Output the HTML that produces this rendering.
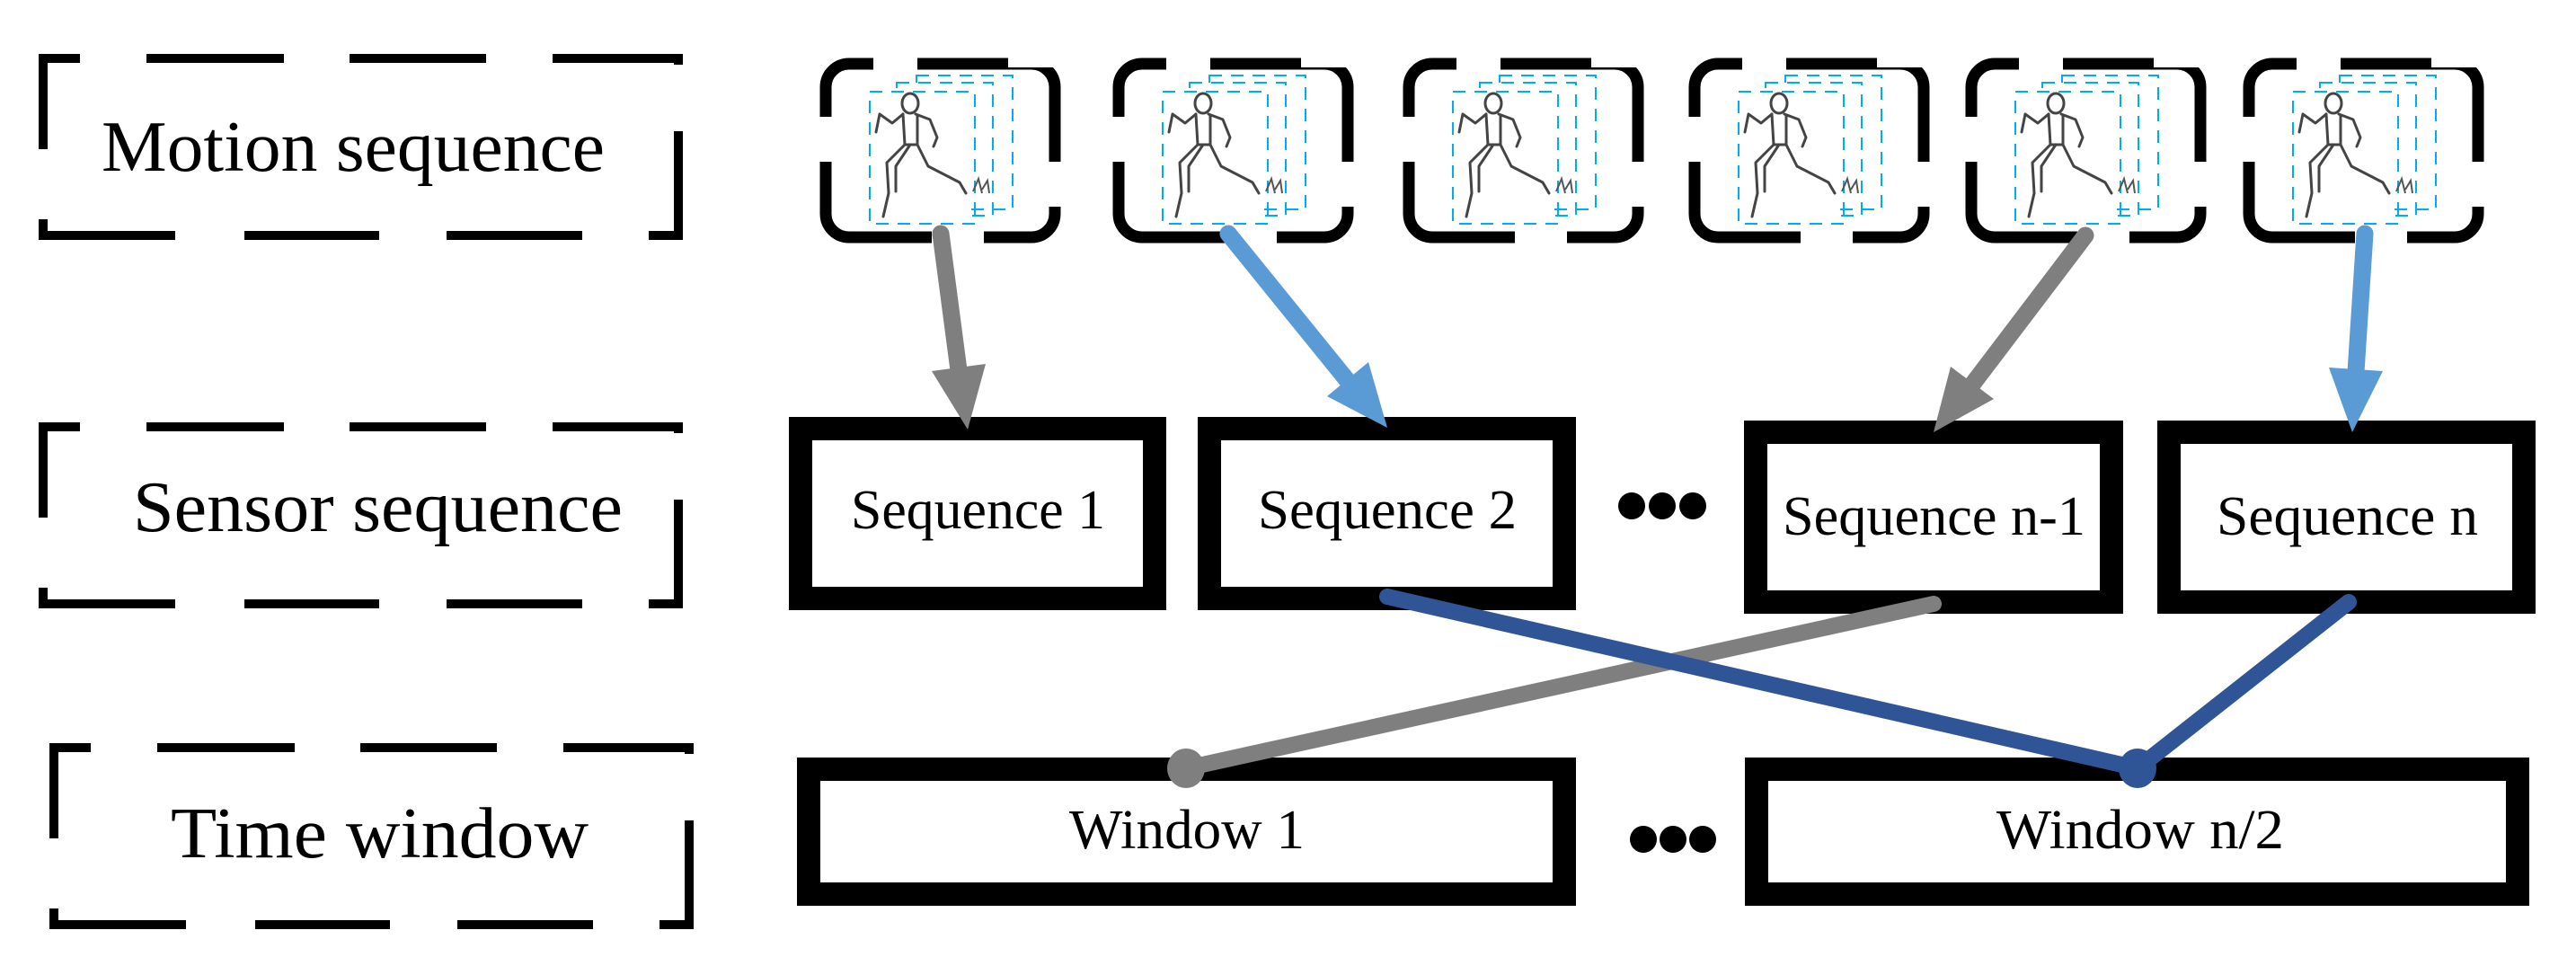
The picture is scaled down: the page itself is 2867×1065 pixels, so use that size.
<!DOCTYPE html>
<html><head><meta charset="utf-8"><style>
html,body{margin:0;padding:0;background:#fff;}
svg{display:block;}
text{font-family:"Liberation Serif",serif;fill:#000;}
</style></head><body>
<svg width="2867" height="1065" viewBox="0 0 2867 1065" xmlns="http://www.w3.org/2000/svg">
<defs>
<g id="mbox">
  <rect x="6" y="6" width="255" height="193" rx="26" ry="26" fill="none" stroke="#000" stroke-width="13"/>
  <rect x="59" y="-4" width="49" height="20" fill="#fff"/>
  <rect x="209" y="-4" width="60" height="14" fill="#fff"/>
  <rect x="-4" y="65" width="20" height="50" fill="#fff"/>
  <rect x="251" y="115" width="20" height="50" fill="#fff"/>
  <rect x="124" y="190" width="58" height="20" fill="#fff"/>
  <g fill="none" stroke="#00aeef" stroke-width="2" stroke-dasharray="14,10">
    <rect x="107" y="19" width="107" height="149"/>
    <rect x="85" y="27" width="107" height="148"/>
    <rect x="55" y="37" width="117" height="147"/>
  </g>
  <rect x="56" y="38" width="110" height="145" fill="#fff"/>
  <g fill="none" stroke="#444" stroke-width="3" stroke-linecap="round" stroke-linejoin="round">
    <ellipse cx="100" cy="50" rx="9" ry="11"/>
    <path d="M92 62 L80 72 L66 62 M66 62 L62 82"/>
    <path d="M106 62 L122 68 L130 88 L126 98"/>
    <path d="M92 62 L94 96 L108 96 L108 64"/>
    <path d="M94 96 L74 116 L76 150 L70 176"/>
    <path d="M108 96 L120 120 L155 138 L162 150"/>
    <path d="M100 96 L84 120 L84 148"/>
  </g>
  <g stroke="#555" stroke-width="2" fill="none">
    <path d="M170 148 l6 -14 l4 16 M180 146 l6 -10 l2 14"/>
  </g>
</g>
</defs>

<g fill="none" stroke="#000" stroke-width="10">
  <path d="M48 166 V65 H89 M163 65 H316 M389 65 H541 M615 65 H755 V72"/>
  <path d="M755 146 V262 H722 M648 262 H497 M422 262 H272 M195 262 H48 V244"/>
</g>
<g fill="none" stroke="#000" stroke-width="10" transform="translate(0,410)">
  <path d="M48 166 V65 H89 M163 65 H316 M389 65 H541 M615 65 H755 V72"/>
  <path d="M755 146 V262 H722 M648 262 H497 M422 262 H272 M195 262 H48 V244"/>
</g>
<g fill="none" stroke="#000" stroke-width="10" transform="translate(12,767)">
  <path d="M48 166 V65 H89 M163 65 H316 M389 65 H541 M615 65 H755 V72"/>
  <path d="M755 146 V262 H722 M648 262 H497 M422 262 H272 M195 262 H48 V244"/>
</g>
<text x="113" y="190" font-size="80" textLength="560" lengthAdjust="spacingAndGlyphs">Motion sequence</text>
<text x="148" y="591" font-size="80" textLength="545" lengthAdjust="spacingAndGlyphs">Sensor sequence</text>
<text x="190" y="954" font-size="80" textLength="465" lengthAdjust="spacingAndGlyphs">Time window</text>

<use href="#mbox" x="913" y="65"/>
<use href="#mbox" x="1239" y="65"/>
<use href="#mbox" x="1562" y="65"/>
<use href="#mbox" x="1880" y="65"/>
<use href="#mbox" x="2188" y="65"/>
<use href="#mbox" x="2497" y="65"/>

<g fill="none" stroke="#000" stroke-width="26">
  <rect x="891" y="477" width="394" height="189"/>
  <rect x="1346" y="477" width="395" height="189"/>
  <rect x="1954" y="481" width="396" height="189"/>
  <rect x="2414" y="481" width="395" height="189"/>
  <rect x="900" y="856" width="841" height="139"/>
  <rect x="1955" y="856" width="847" height="139"/>
</g>
<text x="947" y="588" font-size="62" textLength="283" lengthAdjust="spacingAndGlyphs">Sequence 1</text>
<text x="1400" y="588" font-size="62" textLength="288" lengthAdjust="spacingAndGlyphs">Sequence 2</text>
<text x="1984" y="595" font-size="62" textLength="337" lengthAdjust="spacingAndGlyphs">Sequence n-1</text>
<text x="2467" y="595" font-size="62" textLength="291" lengthAdjust="spacingAndGlyphs">Sequence n</text>
<text x="1190" y="944" font-size="62" textLength="262" lengthAdjust="spacingAndGlyphs">Window 1</text>
<text x="2222" y="944" font-size="62" textLength="320" lengthAdjust="spacingAndGlyphs">Window n/2</text>

<g fill="#000">
  <circle cx="1816" cy="563" r="15"/><circle cx="1850" cy="563" r="15"/><circle cx="1884" cy="563" r="15"/>
  <circle cx="1829" cy="934" r="15"/><circle cx="1862" cy="934" r="15"/><circle cx="1895" cy="934" r="15"/>
</g>

<g stroke-width="19" stroke-linecap="round">
  <line x1="1047" y1="260" x2="1067" y2="412" stroke="#7f7f7f"/>
  <line x1="1367" y1="260" x2="1500" y2="424" stroke="#5b9bd5"/>
  <line x1="2321" y1="262" x2="2195" y2="428" stroke="#7f7f7f"/>
  <line x1="2632" y1="260" x2="2622" y2="414" stroke="#5b9bd5"/>
</g>
<polygon points="1037,413 1097,405 1077,478" fill="#7f7f7f"/>
<polygon points="1477,441 1523,403 1544,476" fill="#5b9bd5"/>
<polygon points="2219,444 2171,408 2152,481" fill="#7f7f7f"/>
<polygon points="2592,409 2652,413 2618,481" fill="#5b9bd5"/>

<g stroke-width="18" stroke-linecap="round">
  <line x1="2152" y1="672" x2="1320" y2="855" stroke="#7f7f7f"/>
  <line x1="1544" y1="664" x2="2379" y2="855" stroke="#2f5597"/>
  <line x1="2614" y1="670" x2="2379" y2="855" stroke="#2f5597"/>
</g>
<ellipse cx="1320" cy="855" rx="21" ry="22" fill="#7f7f7f"/>
<ellipse cx="2379" cy="855" rx="21" ry="22" fill="#2f5597"/>
</svg>
</body></html>
